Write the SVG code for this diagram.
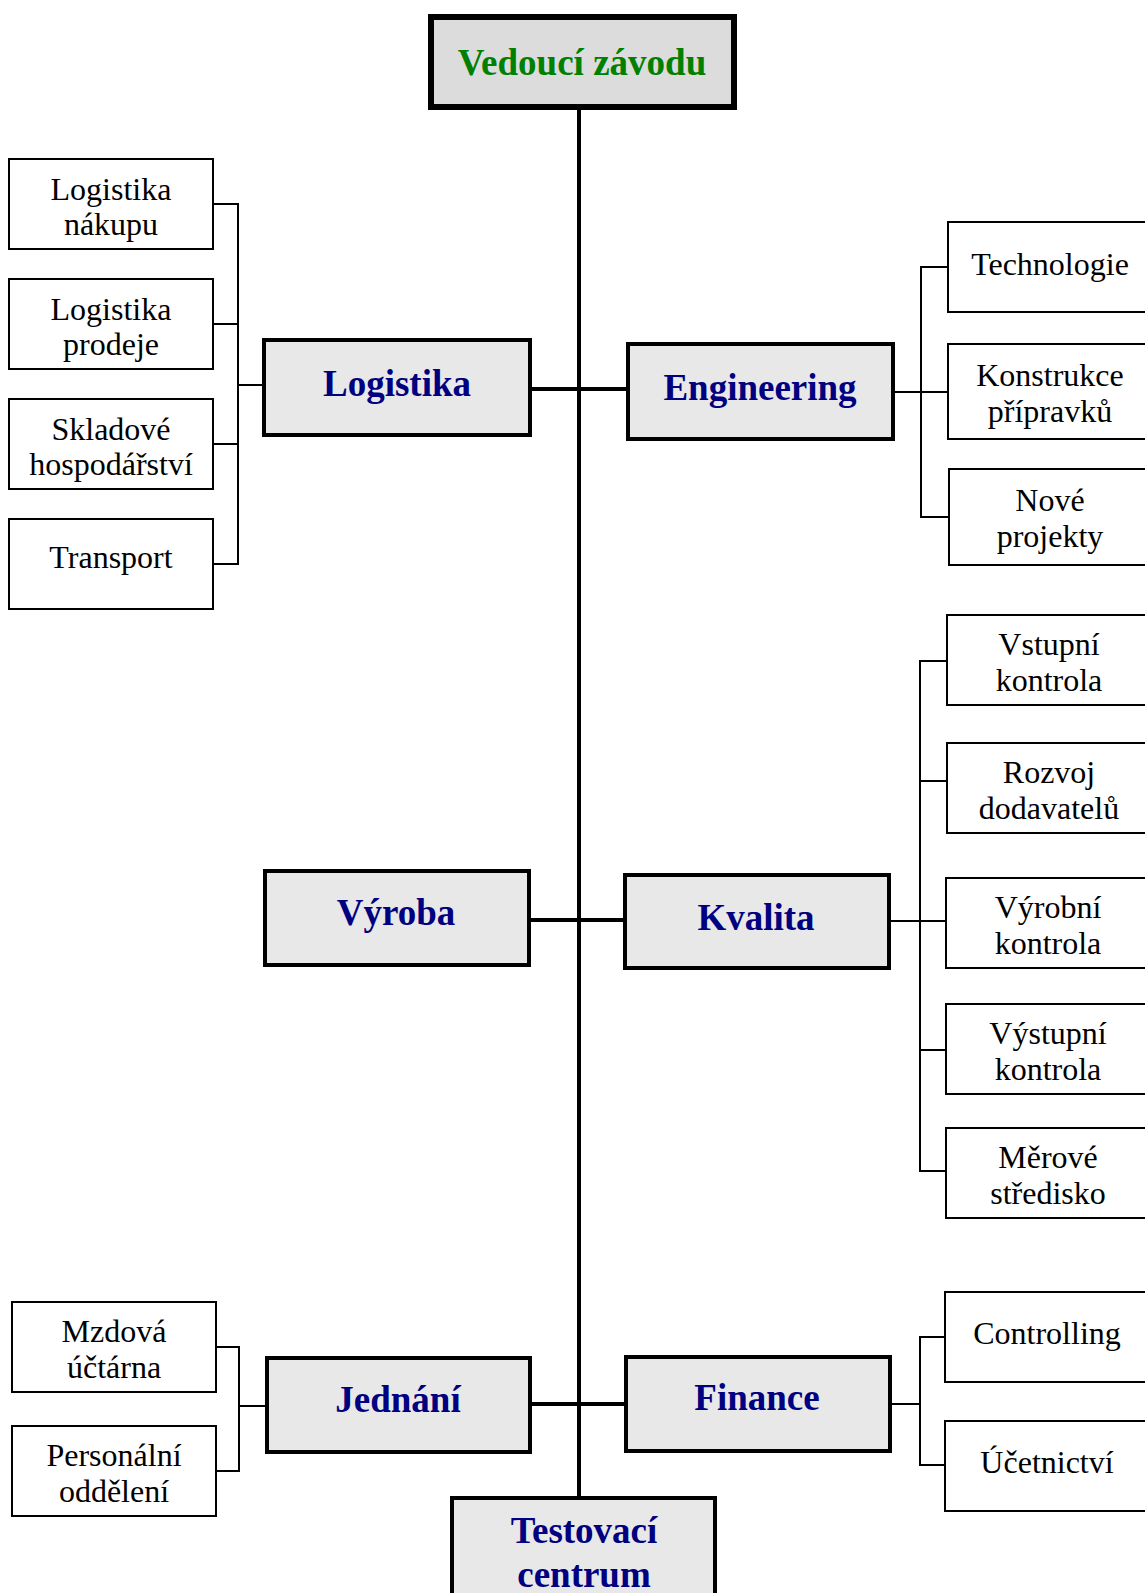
<svg xmlns="http://www.w3.org/2000/svg" width="1145" height="1593" viewBox="0 0 1145 1593">
<style>
.main{fill:#e8e8e8;stroke:#000;stroke-width:4}
.top{fill:#dcdcdc;stroke:#000;stroke-width:6}
.child{fill:#fff;stroke:#000;stroke-width:2}
.mt{font-family:"Liberation Serif",serif;font-weight:bold;font-size:37px;fill:#000080;text-anchor:middle}
.tt{font-family:"Liberation Serif",serif;font-weight:bold;font-size:37px;fill:#008000;text-anchor:middle}
.ct{font-family:"Liberation Serif",serif;font-size:32px;fill:#000;text-anchor:middle}
.thick{stroke:#000;stroke-width:4;fill:none}
.thin{stroke:#000;stroke-width:2;fill:none}
</style>
<rect width="1145" height="1593" fill="#fff"/>
<g id="connectors">
<line class="thick" x1="579" y1="108" x2="579" y2="1498"/>
<line class="thick" x1="530" y1="389" x2="628" y2="389"/>
<line class="thick" x1="529" y1="920" x2="625" y2="920"/>
<line class="thick" x1="530" y1="1404" x2="626" y2="1404"/>
<polyline class="thin" points="213,204 238,204 238,564 213,564"/>
<line class="thin" x1="213" y1="324" x2="238" y2="324"/>
<line class="thin" x1="213" y1="444" x2="238" y2="444"/>
<line class="thin" x1="238" y1="385" x2="264" y2="385"/>
<line class="thin" x1="893" y1="392" x2="921" y2="392"/>
<polyline class="thin" points="948,267 921,267 921,517 948,517"/>
<line class="thin" x1="921" y1="392" x2="948" y2="392"/>
<line class="thin" x1="889" y1="921" x2="920" y2="921"/>
<polyline class="thin" points="947,661 920,661 920,1171 947,1171"/>
<line class="thin" x1="920" y1="781" x2="947" y2="781"/>
<line class="thin" x1="920" y1="921" x2="947" y2="921"/>
<line class="thin" x1="920" y1="1050" x2="947" y2="1050"/>
<line class="thin" x1="890" y1="1404" x2="920" y2="1404"/>
<polyline class="thin" points="945,1337 920,1337 920,1465 945,1465"/>
<polyline class="thin" points="216,1347 239,1347 239,1471 216,1471"/>
<line class="thin" x1="239" y1="1406" x2="267" y2="1406"/>
</g>
<g id="vedouci"><rect class="top" x="431" y="17" width="303" height="90"/><text class="tt" x="582" y="75">Vedoucí závodu</text></g>
<g id="logistika"><rect class="main" x="264" y="340" width="266" height="95"/><text class="mt" x="397" y="396">Logistika</text></g>
<g id="engineering"><rect class="main" x="628" y="344" width="265" height="95"/><text class="mt" x="760" y="400">Engineering</text></g>
<g id="vyroba"><rect class="main" x="265" y="871" width="264" height="94"/><text class="mt" x="396" y="925">Výroba</text></g>
<g id="kvalita"><rect class="main" x="625" y="875" width="264" height="93"/><text class="mt" x="756" y="930">Kvalita</text></g>
<g id="jednani"><rect class="main" x="267" y="1358" width="263" height="94"/><text class="mt" x="398" y="1412">Jednání</text></g>
<g id="finance"><rect class="main" x="626" y="1357" width="264" height="94"/><text class="mt" x="757" y="1410">Finance</text></g>
<g id="testovaci"><rect class="main" x="452" y="1498" width="263" height="120"/><text class="mt" x="584" y="1543">Testovací</text><text class="mt" x="584" y="1587">centrum</text></g>
<g id="logistika-nakupu"><rect class="child" x="9" y="159" width="204" height="90"/><text class="ct" x="111" y="200">Logistika</text><text class="ct" x="111" y="235">nákupu</text></g>
<g id="logistika-prodeje"><rect class="child" x="9" y="279" width="204" height="90"/><text class="ct" x="111" y="320">Logistika</text><text class="ct" x="111" y="355">prodeje</text></g>
<g id="skladove"><rect class="child" x="9" y="399" width="204" height="90"/><text class="ct" x="111" y="440">Skladové</text><text class="ct" x="111" y="475">hospodářství</text></g>
<g id="transport"><rect class="child" x="9" y="519" width="204" height="90"/><text class="ct" x="111" y="568">Transport</text></g>
<g id="technologie"><rect class="child" x="948" y="222" width="204" height="90"/><text class="ct" x="1050" y="275">Technologie</text></g>
<g id="konstrukce"><rect class="child" x="948" y="344" width="204" height="95"/><text class="ct" x="1050" y="386">Konstrukce</text><text class="ct" x="1050" y="422">přípravků</text></g>
<g id="nove"><rect class="child" x="949" y="469" width="204" height="96"/><text class="ct" x="1050" y="511">Nové</text><text class="ct" x="1050" y="547">projekty</text></g>
<g id="vstupni"><rect class="child" x="947" y="615" width="204" height="90"/><text class="ct" x="1049" y="655">Vstupní</text><text class="ct" x="1049" y="691">kontrola</text></g>
<g id="rozvoj"><rect class="child" x="947" y="743" width="204" height="90"/><text class="ct" x="1049" y="783">Rozvoj</text><text class="ct" x="1049" y="819">dodavatelů</text></g>
<g id="vyrobni"><rect class="child" x="946" y="878" width="204" height="90"/><text class="ct" x="1048" y="918">Výrobní</text><text class="ct" x="1048" y="954">kontrola</text></g>
<g id="vystupni"><rect class="child" x="946" y="1004" width="204" height="90"/><text class="ct" x="1048" y="1044">Výstupní</text><text class="ct" x="1048" y="1080">kontrola</text></g>
<g id="merove"><rect class="child" x="946" y="1128" width="204" height="90"/><text class="ct" x="1048" y="1168">Měrové</text><text class="ct" x="1048" y="1204">středisko</text></g>
<g id="controlling"><rect class="child" x="945" y="1292" width="204" height="90"/><text class="ct" x="1047" y="1344">Controlling</text></g>
<g id="ucetnictvi"><rect class="child" x="945" y="1421" width="204" height="90"/><text class="ct" x="1047" y="1473">Účetnictví</text></g>
<g id="mzdova"><rect class="child" x="12" y="1302" width="204" height="90"/><text class="ct" x="114" y="1342">Mzdová</text><text class="ct" x="114" y="1378">účtárna</text></g>
<g id="personalni"><rect class="child" x="12" y="1426" width="204" height="90"/><text class="ct" x="114" y="1466">Personální</text><text class="ct" x="114" y="1502">oddělení</text></g>
</svg>
